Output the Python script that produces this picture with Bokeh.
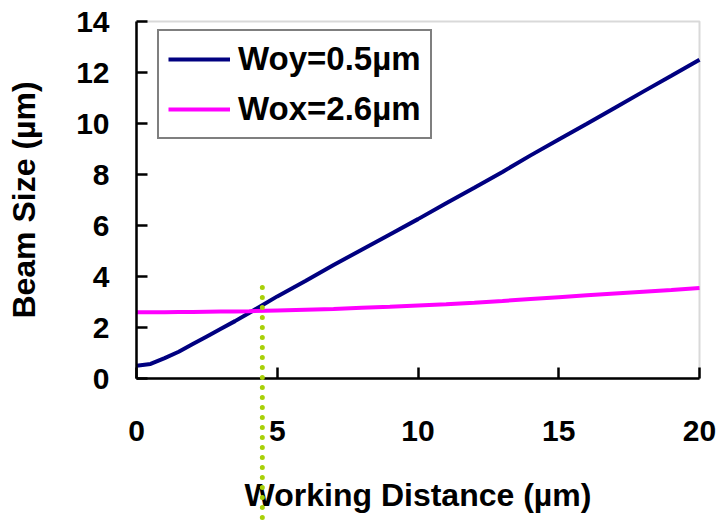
from bokeh.plotting import figure
from bokeh.models import Range1d, Legend, LegendItem, FixedTicker, BoxAnnotation
from bokeh.embed import file_html
from bokeh.resources import INLINE

# Working distance (µm)
distance = [0, 0.5, 1, 1.5, 2, 2.5, 3, 3.5, 4, 5, 6, 7, 8, 9, 10, 11, 12, 13, 14, 15, 16, 17, 18, 19, 20]
# Beam size for Woy = 0.5 µm
woy = [0.50, 0.57, 0.80, 1.05, 1.35, 1.65, 1.95, 2.25, 2.57, 3.22, 3.82, 4.45, 5.05, 5.65, 6.25, 6.87, 7.48, 8.10, 8.75, 9.37, 9.99, 10.62, 11.25, 11.87, 12.50]
# Beam size for Wox = 2.6 µm
wox = [2.60, 2.60, 2.60, 2.61, 2.61, 2.62, 2.63, 2.63, 2.64, 2.67, 2.70, 2.73, 2.77, 2.81, 2.86, 2.91, 2.97, 3.04, 3.12, 3.19, 3.26, 3.33, 3.40, 3.47, 3.55]

series_labels = ["Woy=0.5µm", "Wox=2.6µm"]
x_ticks = [0, 5, 10, 15, 20]
y_ticks = [0, 2, 4, 6, 8, 10, 12, 14]
x_bounds = (0, 20)
y_bounds = (0, 14)

# crossing marker (dotted vertical line)
marker_x = 4.47
marker_top = 3.57
marker_bottom = -5.7

FONT = "Liberation Sans"

# the frame fills the whole canvas so the dotted line can reach the bottom;
# axes are pinned at x=0 / y=0 with fixed_location
PX_X = 28.15   # px per x unit
PX_Y = 25.5    # px per y unit
x_range = Range1d(x_bounds[0] - 136 / PX_X, x_bounds[1] + 23 / PX_X)
y_range = Range1d(y_bounds[0] - 143 / PX_Y, y_bounds[1] + 21 / PX_Y)

p = figure(width=722, height=521, output_backend="svg", toolbar_location=None,
           x_range=x_range, y_range=y_range,
           min_border_left=0, min_border_right=0, min_border_top=0, min_border_bottom=0,
           background_fill_color="white", border_fill_color="white")

p.xgrid.visible = False
p.ygrid.visible = False
p.outline_line_color = None

# plot area border (gray top/right)
box = BoxAnnotation(left=x_bounds[0], right=x_bounds[1], bottom=y_bounds[0], top=y_bounds[1],
                    fill_alpha=0, line_color="#808080", line_width=2, level="underlay")
p.add_layout(box)

r1 = p.line(distance, woy, line_color="#000080", line_width=4)
r2 = p.line(distance, wox, line_color="#FF00FF", line_width=4)

p.segment(x0=[marker_x], y0=[marker_top], x1=[marker_x], y1=[marker_bottom],
          line_color="#A8D008", line_width=5, line_dash="0 10", line_cap="round",
          level="overlay")

for ax in (p.xaxis[0], p.yaxis[0]):
    ax.axis_line_color = "black"
    ax.axis_line_width = 2.5
    ax.major_tick_line_color = "black"
    ax.major_tick_line_width = 2.5
    ax.major_tick_in = 11
    ax.major_tick_out = 0
    ax.minor_tick_line_color = None
    ax.major_label_text_font = FONT
    ax.major_label_text_font_style = "bold"
    ax.major_label_text_font_size = "30px"
    ax.major_label_text_color = "black"
    ax.axis_label_text_font = FONT
    ax.axis_label_text_font_style = "bold"
    ax.axis_label_text_font_size = "32px"
    ax.axis_label_text_color = "black"

p.xaxis.ticker = FixedTicker(ticks=x_ticks)
p.yaxis.ticker = FixedTicker(ticks=y_ticks)
p.xaxis.bounds = x_bounds
p.yaxis.bounds = y_bounds
p.xaxis.fixed_location = y_bounds[0]
p.yaxis.fixed_location = x_bounds[0]
p.xaxis.axis_label = "Working Distance (µm)"
p.yaxis.axis_label = "Beam Size (µm)"
p.xaxis.major_label_standoff = 42
p.xaxis.axis_label_standoff = 33
p.yaxis.major_label_standoff = 27
p.yaxis.axis_label_standoff = 31

legend = Legend(items=[LegendItem(label=series_labels[0], renderers=[r1]),
                       LegendItem(label=series_labels[1], renderers=[r2])],
                location=(157, 382))
legend.label_text_font = FONT
legend.label_text_font_style = "bold"
legend.label_text_font_size = "33px"
legend.label_text_color = "black"
legend.glyph_width = 62
legend.glyph_height = 30
legend.label_height = 30
legend.label_standoff = 8
legend.padding = 9
legend.spacing = 12
legend.margin = 0
legend.border_line_color = "black"
legend.border_line_width = 2
legend.background_fill_color = "white"
legend.background_fill_alpha = 1
p.add_layout(legend, "center")

open("out.html", "w").write(file_html(p, INLINE))
